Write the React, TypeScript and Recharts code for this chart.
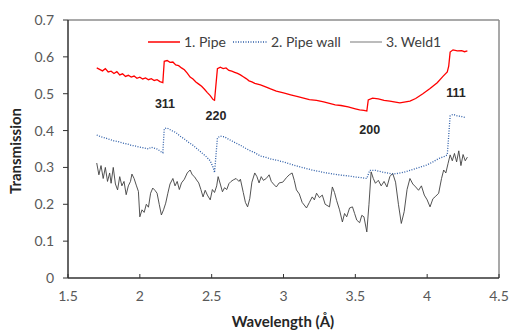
import { LineChart, Line, XAxis, YAxis, Legend, ReferenceLine, ReferenceDot } from 'recharts';

// 1. Pipe
const pipeX = [
  1.70, 1.72, 1.74, 1.76, 1.78, 1.80, 1.82, 1.84, 1.86, 1.88, 1.90, 1.92, 1.94, 1.96, 1.98, 2.00, 2.02, 2.04, 2.06, 2.08,
  2.10, 2.12, 2.14, 2.16, 2.17, 2.19, 2.21, 2.23, 2.25, 2.27, 2.29, 2.31, 2.33, 2.35, 2.37, 2.39, 2.41, 2.43, 2.45, 2.47,
  2.49, 2.51, 2.52, 2.54, 2.56, 2.58, 2.60, 2.62, 2.64, 2.66, 2.68, 2.70, 2.72, 2.74, 2.76, 2.78, 2.80, 2.84, 2.88, 2.91,
  2.95, 3.00, 3.05, 3.10, 3.14, 3.18, 3.23, 3.28, 3.32, 3.36, 3.40, 3.45, 3.50, 3.53, 3.56, 3.58, 3.59, 3.62, 3.66, 3.70,
  3.74, 3.78, 3.81, 3.85, 3.88, 3.92, 3.97, 4.02, 4.07, 4.11, 4.14, 4.15, 4.16, 4.18, 4.21, 4.24, 4.26, 4.28,
];
const pipeY = [
  0.570, 0.566, 0.562, 0.568, 0.559, 0.561, 0.555, 0.560, 0.551, 0.554, 0.547, 0.550, 0.545, 0.548, 0.542, 0.545, 0.540, 0.543, 0.538, 0.541,
  0.536, 0.538, 0.533, 0.530, 0.588, 0.590, 0.585, 0.586, 0.578, 0.576, 0.570, 0.565, 0.556, 0.545, 0.540, 0.532, 0.526, 0.520, 0.512, 0.503,
  0.495, 0.484, 0.482, 0.568, 0.572, 0.568, 0.570, 0.563, 0.561, 0.558, 0.555, 0.551, 0.546, 0.541, 0.535, 0.532, 0.528, 0.524, 0.518, 0.513,
  0.507, 0.502, 0.497, 0.492, 0.488, 0.484, 0.482, 0.478, 0.474, 0.470, 0.468, 0.464, 0.459, 0.456, 0.455, 0.453, 0.483, 0.488, 0.486, 0.482,
  0.480, 0.477, 0.475, 0.478, 0.480, 0.487, 0.500, 0.514, 0.530, 0.547, 0.559, 0.575, 0.613, 0.619, 0.616, 0.617, 0.614, 0.616,
];

// 2. Pipe wall
const wallX = [
  1.70, 1.73, 1.76, 1.79, 1.82, 1.85, 1.88, 1.91, 1.94, 1.97, 2.00, 2.03, 2.06, 2.08, 2.12, 2.15, 2.16, 2.17, 2.19, 2.22,
  2.25, 2.28, 2.31, 2.34, 2.37, 2.40, 2.43, 2.46, 2.49, 2.51, 2.52, 2.54, 2.56, 2.59, 2.62, 2.65, 2.68, 2.71, 2.74, 2.77,
  2.80, 2.84, 2.88, 2.92, 2.96, 3.00, 3.05, 3.10, 3.15, 3.20, 3.25, 3.30, 3.35, 3.40, 3.45, 3.50, 3.55, 3.58, 3.60, 3.64,
  3.68, 3.72, 3.76, 3.80, 3.84, 3.88, 3.92, 3.96, 4.00, 4.04, 4.08, 4.12, 4.14, 4.16, 4.18, 4.21, 4.24, 4.27,
];
const wallY = [
  0.388, 0.383, 0.380, 0.376, 0.372, 0.370, 0.366, 0.364, 0.360, 0.358, 0.355, 0.353, 0.350, 0.355, 0.350, 0.342, 0.340, 0.405, 0.407, 0.400,
  0.395, 0.385, 0.377, 0.368, 0.360, 0.350, 0.340, 0.330, 0.318, 0.300, 0.286, 0.380, 0.385, 0.383, 0.376, 0.370, 0.364, 0.358, 0.351, 0.345,
  0.340, 0.331, 0.327, 0.322, 0.319, 0.315, 0.309, 0.303, 0.298, 0.293, 0.289, 0.285, 0.282, 0.279, 0.277, 0.274, 0.272, 0.270, 0.292, 0.292,
  0.288, 0.285, 0.282, 0.284, 0.287, 0.292, 0.297, 0.302, 0.307, 0.315, 0.324, 0.330, 0.334, 0.440, 0.444, 0.440, 0.438, 0.435,
];

// 3. Weld1
const weldX = [
  1.700, 1.715, 1.730, 1.745, 1.760, 1.775, 1.790, 1.800, 1.815, 1.830, 1.845, 1.860, 1.875, 1.890, 1.905, 1.920, 1.935, 1.945, 1.960, 1.975,
  1.990, 2.000, 2.015, 2.030, 2.045, 2.060, 2.075, 2.090, 2.105, 2.120, 2.135, 2.150, 2.165, 2.180, 2.195, 2.210, 2.230, 2.245, 2.260, 2.275,
  2.290, 2.310, 2.330, 2.350, 2.365, 2.380, 2.395, 2.410, 2.425, 2.440, 2.455, 2.470, 2.490, 2.505, 2.520, 2.535, 2.545, 2.560, 2.575, 2.590,
  2.605, 2.620, 2.635, 2.650, 2.670, 2.690, 2.700, 2.720, 2.735, 2.750, 2.765, 2.780, 2.800, 2.815, 2.830, 2.845, 2.860, 2.880, 2.900, 2.915,
  2.930, 2.950, 2.970, 2.995, 3.020, 3.040, 3.060, 3.075, 3.090, 3.110, 3.130, 3.160, 3.180, 3.200, 3.215, 3.230, 3.250, 3.270, 3.290, 3.320,
  3.340, 3.355, 3.370, 3.390, 3.410, 3.425, 3.440, 3.460, 3.480, 3.495, 3.510, 3.530, 3.545, 3.560, 3.580, 3.595, 3.610, 3.625, 3.640, 3.660,
  3.680, 3.700, 3.720, 3.740, 3.760, 3.780, 3.800, 3.820, 3.840, 3.860, 3.880, 3.900, 3.920, 3.940, 3.960, 3.980, 4.000, 4.020, 4.040, 4.060,
  4.080, 4.100, 4.115, 4.130, 4.145, 4.160, 4.175, 4.190, 4.205, 4.220, 4.235, 4.250, 4.265, 4.280,
];
const weldY = [
  0.312, 0.280, 0.305, 0.270, 0.300, 0.262, 0.285, 0.257, 0.300, 0.255, 0.239, 0.275, 0.250, 0.262, 0.226, 0.250, 0.262, 0.282, 0.270, 0.252,
  0.235, 0.166, 0.185, 0.178, 0.200, 0.192, 0.230, 0.244, 0.238, 0.230, 0.200, 0.171, 0.185, 0.203, 0.230, 0.255, 0.270, 0.250, 0.262, 0.240,
  0.258, 0.268, 0.285, 0.293, 0.280, 0.275, 0.266, 0.258, 0.240, 0.220, 0.238, 0.225, 0.212, 0.240, 0.232, 0.250, 0.275, 0.255, 0.234, 0.245,
  0.240, 0.256, 0.262, 0.266, 0.270, 0.262, 0.268, 0.232, 0.205, 0.193, 0.215, 0.260, 0.285, 0.275, 0.258, 0.275, 0.265, 0.270, 0.280, 0.262,
  0.255, 0.247, 0.258, 0.260, 0.272, 0.280, 0.285, 0.265, 0.239, 0.228, 0.205, 0.190, 0.205, 0.220, 0.212, 0.230, 0.218, 0.225, 0.200, 0.193,
  0.247, 0.232, 0.210, 0.185, 0.152, 0.175, 0.166, 0.190, 0.193, 0.175, 0.157, 0.150, 0.170, 0.166, 0.125, 0.200, 0.288, 0.270, 0.257, 0.265,
  0.250, 0.262, 0.247, 0.275, 0.284, 0.260, 0.200, 0.148, 0.180, 0.240, 0.270, 0.255, 0.247, 0.238, 0.250, 0.225, 0.212, 0.193, 0.215, 0.222,
  0.230, 0.270, 0.293, 0.285, 0.310, 0.334, 0.318, 0.338, 0.315, 0.345, 0.305, 0.335, 0.318, 0.328,
];

const xTicks = [1.5, 2, 2.5, 3, 3.5, 4, 4.5];
const yTicks = [0, 0.1, 0.2, 0.3, 0.4, 0.5, 0.6, 0.7];

const peakLabels = ['311', '220', '200', '111'];
const peakX = [2.175, 2.53, 3.6, 4.2];
const peakY = [0.472, 0.44, 0.404, 0.502];

const seriesNames = ['1. Pipe', '2. Pipe wall', '3. Weld1'];

const toPoints = (xs: number[], ys: number[]) => xs.map((x, i) => ({ x, y: ys[i] }));

const pipeData = toPoints(pipeX, pipeY);
const wallData = toPoints(wallX, wallY);
const weldData = toPoints(weldX, weldY);

const tickFont = { fontFamily: 'Lato, sans-serif', fontSize: 14, fill: '#595959' };
const titleFont = { fontFamily: 'Lato, sans-serif', fontSize: 15, fontWeight: 700, fill: '#262626' };

function ChartLegend() {
  return (
    <svg width={511} height={20} style={{ display: 'block' }}>
      <g fontFamily="Lato, sans-serif" fontSize={14} fill="#404040">
        <line x1={148} x2={180} y1={10} y2={10} stroke="#ff0000" strokeWidth={1.5} />
        <text x={184} y={15}>{seriesNames[0]}</text>
        <line x1={233} x2={267} y1={10} y2={10} stroke="#2e5ea8" strokeWidth={1.3} strokeDasharray="1 1.5" />
        <text x={271} y={15}>{seriesNames[1]}</text>
        <line x1={350} x2={382} y1={10} y2={10} stroke="#a6a6a6" strokeWidth={1.5} />
        <text x={386} y={15}>{seriesNames[2]}</text>
      </g>
    </svg>
  );
}

export default function App() {
  return (
    <div style={{ position: 'absolute', left: 0, top: 0, background: '#fff' }}>
      <LineChart width={511} height={331} margin={{ top: 20, right: 12, left: 0, bottom: 0 }}>
        <XAxis
          dataKey="x"
          type="number"
          domain={[1.5, 4.5]}
          ticks={xTicks}
          height={53}
          tick={tickFont}
          tickSize={-4}
          tickMargin={17}
          axisLine={{ stroke: '#333', strokeWidth: 1.5 }}
          tickLine={{ stroke: '#333' }}
          allowDataOverflow
          label={{
            content: () => (
              <text x={283} y={327} textAnchor="middle" {...titleFont}>
                Wavelength (Å)
              </text>
            ),
          }}
        />
        <YAxis
          type="number"
          domain={[0, 0.7]}
          ticks={yTicks}
          width={68}
          tick={tickFont}
          tickSize={5}
          tickMargin={9}
          tickFormatter={(v: number) => (v === 0 ? '0' : v.toFixed(1))}
          axisLine={{ stroke: '#333', strokeWidth: 1.5 }}
          tickLine={{ stroke: '#333' }}
          label={{
            content: () => (
              <text x={21} y={151} textAnchor="middle" transform="rotate(-90 21 151)" {...titleFont}>
                Transmission
              </text>
            ),
          }}
        />
        <ReferenceLine y={0.7} stroke="#8c8c8c" strokeWidth={1.5} />
        <ReferenceLine x={4.5} stroke="#8c8c8c" strokeWidth={1.5} />
        <Legend
          verticalAlign="middle"
          align="center"
          content={() => <ChartLegend />}
          wrapperStyle={{ position: 'absolute', top: 32, left: 0, width: 511 }}
        />
        <Line
          data={weldData}
          dataKey="y"
          name={seriesNames[2]}
          stroke="#404040"
          strokeWidth={0.9}
          dot={false}
          isAnimationActive={false}
        />
        <Line
          data={wallData}
          dataKey="y"
          name={seriesNames[1]}
          stroke="#2e5ea8"
          strokeWidth={1.3}
          strokeDasharray="1 1.5"
          dot={false}
          isAnimationActive={false}
        />
        <Line
          data={pipeData}
          dataKey="y"
          name={seriesNames[0]}
          stroke="#ff0000"
          strokeWidth={1.3}
          dot={false}
          isAnimationActive={false}
        />
        {peakLabels.map((t, i) => (
          <ReferenceDot
            key={t}
            x={peakX[i]}
            y={peakY[i]}
            r={0}
            stroke="none"
            fill="none"
            label={{
              value: t,
              position: 'center',
              fontFamily: 'Liberation Sans, Arial, sans-serif',
              fontSize: 12.5,
              fontWeight: 700,
              fill: '#262626',
            }}
          />
        ))}
      </LineChart>
    </div>
  );
}
